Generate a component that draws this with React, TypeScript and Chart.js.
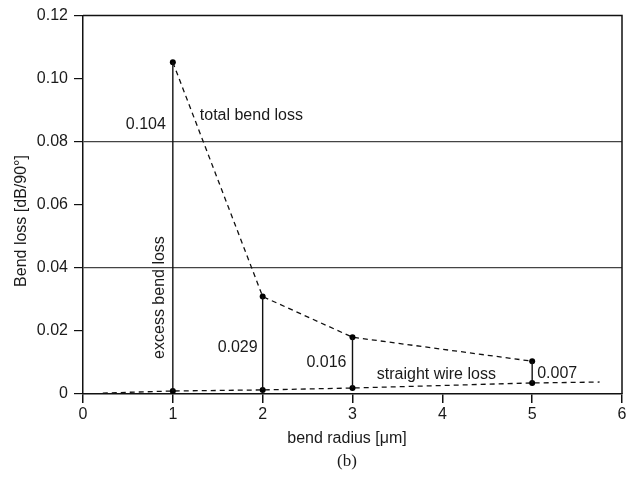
import React, { useEffect, useRef } from "react";
import { Chart, registerables } from "chart.js";

Chart.register(...registerables);

const radii = [1, 2, 3, 5];
const totalLoss = [0.1052, 0.0309, 0.018, 0.0104];
const straightX = [0.22, 1, 2, 3, 5, 5.75];
const straightLoss = [0.0003, 0.00095, 0.0013, 0.0019, 0.0035, 0.0038];
const excessLabels = ["0.104", "0.029", "0.016", "0.007"];
const yTicks = [0, 0.02, 0.04, 0.06, 0.08, 0.1, 0.12];
const xTicks = [0, 1, 2, 3, 4, 5, 6];

const FONT = "'Liberation Sans', Arial, Helvetica, sans-serif";
const TXT = "#1a1a1a";

const annotationPlugin = {
  id: "annot",
  afterDraw(chart: any) {
    const { ctx, chartArea, scales } = chart;
    const xs = scales.x;
    const ys = scales.y;
    ctx.save();
    // frame top & right
    ctx.strokeStyle = "#111";
    ctx.lineWidth = 1.5;
    ctx.beginPath();
    ctx.moveTo(chartArea.left, chartArea.top);
    ctx.lineTo(chartArea.right, chartArea.top);
    ctx.lineTo(chartArea.right, chartArea.bottom);
    ctx.stroke();

    ctx.fillStyle = TXT;
    ctx.font = `16px ${FONT}`;
    ctx.textBaseline = "middle";
    // excess values
    ctx.textAlign = "right";
    ctx.fillText(excessLabels[0], xs.getPixelForValue(1) - 7, ys.getPixelForValue(0.0853));
    ctx.fillText(excessLabels[1], xs.getPixelForValue(2) - 5, ys.getPixelForValue(0.0148));
    ctx.fillText(excessLabels[2], xs.getPixelForValue(3) - 6, ys.getPixelForValue(0.0101));
    ctx.textAlign = "left";
    ctx.fillText(excessLabels[3], xs.getPixelForValue(5) + 5, ys.getPixelForValue(0.0066));
    ctx.fillText("total bend loss", xs.getPixelForValue(1.3), ys.getPixelForValue(0.0884));
    ctx.fillText("straight wire loss", xs.getPixelForValue(3.27), ys.getPixelForValue(0.006));

    // rotated "excess bend loss"
    ctx.save();
    ctx.translate(xs.getPixelForValue(1) - 13, ys.getPixelForValue(0.0306));
    ctx.rotate(-Math.PI / 2);
    ctx.textAlign = "center";
    ctx.fillText("excess bend loss", 0, 0);
    ctx.restore();

    // y axis title
    ctx.save();
    ctx.translate(22, 221);
    ctx.rotate(-Math.PI / 2);
    ctx.textAlign = "center";
    ctx.fillText("Bend loss [dB/90°]", 0, 0);
    ctx.restore();

    // x axis title
    ctx.textAlign = "center";
    ctx.fillText("bend radius [μm]", 347, 439);

    // caption
    ctx.font = `17px 'Liberation Serif', 'Times New Roman', serif`;
    ctx.fillText("(b)", 347, 462);
    ctx.restore();
  },
};

export default function App() {
  const ref = useRef<HTMLCanvasElement>(null);
  useEffect(() => {
    if (!ref.current) return;
    const verticals = radii.map((r, i) => ({
      data: [
        { x: r, y: straightLoss[straightX.indexOf(r)] },
        { x: r, y: totalLoss[i] },
      ],
      borderColor: "#111",
      borderWidth: 1.4,
      pointRadius: 0,
      showLine: true,
    }));
    const chart = new Chart(ref.current, {
      type: "scatter",
      data: {
        datasets: [
          ...verticals,
          {
            data: radii.map((r, i) => ({ x: r, y: totalLoss[i] })),
            borderColor: "#111",
            borderWidth: 1.3,
            borderDash: [5, 4],
            showLine: true,
            pointRadius: 3,
            pointBackgroundColor: "#000",
            pointBorderColor: "#000",
            pointBorderWidth: 0,
          },
          {
            data: straightX.map((x, i) => ({ x, y: straightLoss[i] })),
            borderColor: "#111",
            borderWidth: 1.3,
            borderDash: [5, 4],
            showLine: true,
            pointRadius: (c: any) => (radii.includes(straightX[c.dataIndex]) ? 3 : 0),
            pointBackgroundColor: "#000",
            pointBorderColor: "#000",
            pointBorderWidth: 0,
          },
        ],
      },
      options: {
        animation: false,
        responsive: false,
        layout: { padding: { top: 14, right: 13, bottom: 0, left: 0 } },
        plugins: { legend: { display: false }, tooltip: { enabled: false } },
        scales: {
          x: {
            type: "linear",
            min: 0,
            max: 6,
            afterFit: (s: any) => { s.height = 88; },
            afterBuildTicks: (s: any) => { s.ticks = xTicks.map((v) => ({ value: v })); },
            ticks: { color: TXT, font: { size: 16, family: FONT }, padding: 2 },
            grid: { color: "transparent", tickColor: "#111", tickLength: 9, lineWidth: 1.5 },
            border: { display: true, color: "#111", width: 1.5 },
          },
          y: {
            type: "linear",
            min: 0,
            max: 0.12,
            afterFit: (s: any) => { s.width = 83; },
            afterBuildTicks: (s: any) => { s.ticks = yTicks.map((v) => ({ value: v })); },
            ticks: {
              color: TXT,
              font: { size: 16, family: FONT },
              padding: 6,
              callback: (v: any) => (v === 0 ? "0" : Number(v).toFixed(2)),
            },
            grid: {
              color: (c: any) =>
                c.tick && (Math.abs(c.tick.value - 0.04) < 1e-9 || Math.abs(c.tick.value - 0.08) < 1e-9)
                  ? "#444"
                  : "transparent",
              tickColor: "#111",
              tickLength: 9,
              lineWidth: 1.2,
            },
            border: { display: true, color: "#111", width: 1.5 },
          },
        },
      },
      plugins: [annotationPlugin],
    });
    return () => chart.destroy();
  }, []);
  return (
    <div style={{ position: "absolute", left: 0, top: 0, width: 635, height: 482, background: "#fff" }}>
      <canvas ref={ref} width={635} height={482} />
    </div>
  );
}
